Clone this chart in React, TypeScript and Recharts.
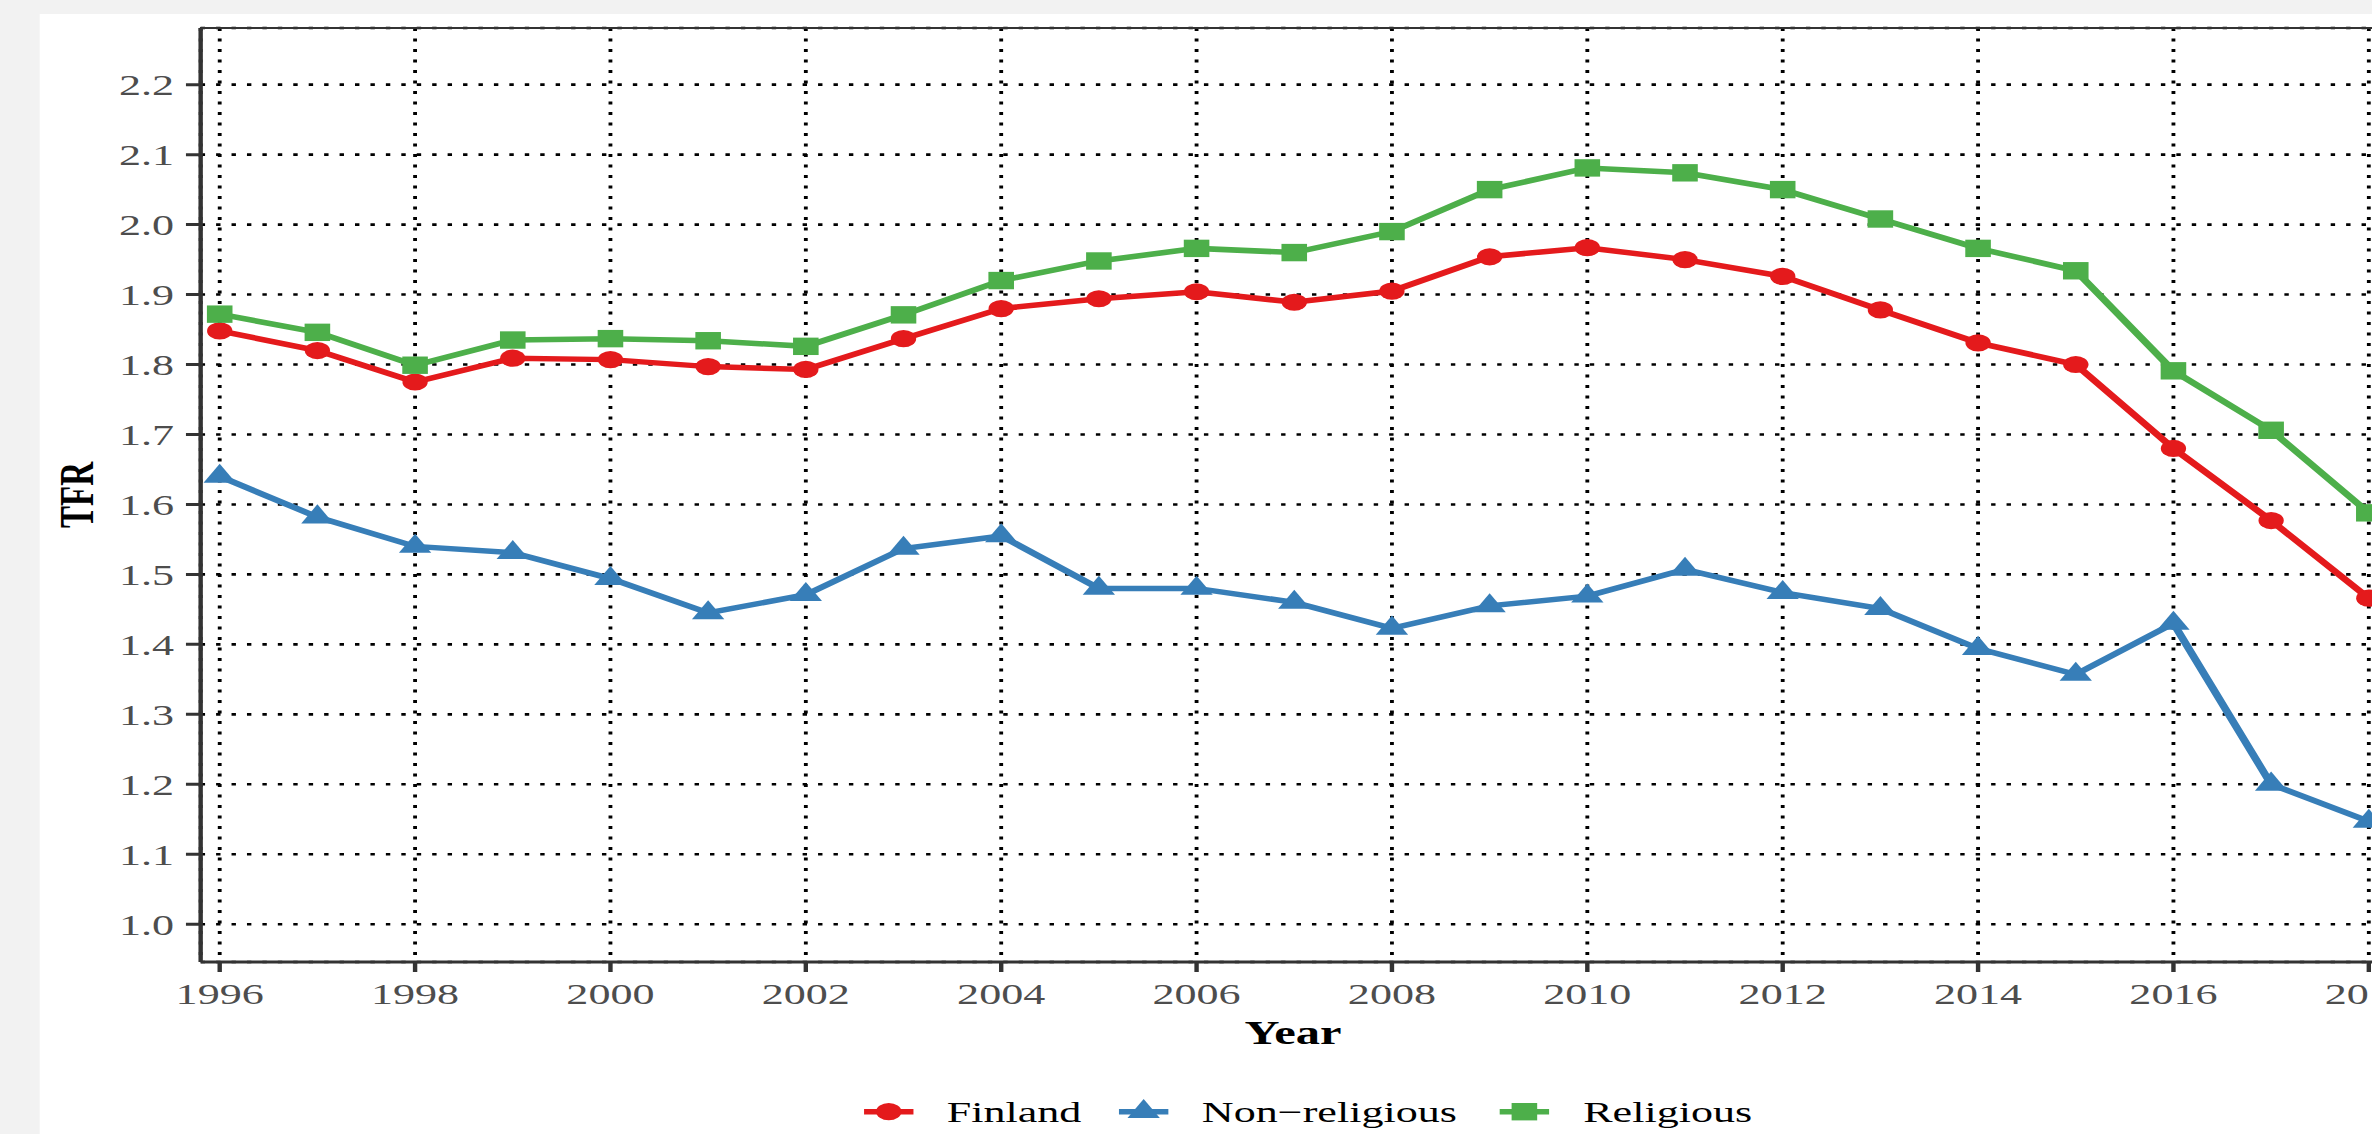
import { LineChart, Line, XAxis, YAxis, CartesianGrid } from 'recharts';

// values
const years = [1996, 1997, 1998, 1999, 2000, 2001, 2002, 2003, 2004, 2005, 2006, 2007, 2008, 2009, 2010, 2011, 2012, 2013, 2014, 2015, 2016, 2017, 2018];
const finland = [1.848, 1.82, 1.775, 1.809, 1.807, 1.797, 1.793, 1.837, 1.88, 1.894, 1.904, 1.889, 1.905, 1.954, 1.967, 1.95, 1.926, 1.878, 1.831, 1.8, 1.68, 1.577, 1.466];
const nonReligious = [1.64, 1.582, 1.54, 1.531, 1.494, 1.445, 1.471, 1.537, 1.555, 1.48, 1.48, 1.46, 1.423, 1.455, 1.469, 1.507, 1.474, 1.451, 1.394, 1.357, 1.43, 1.2, 1.147];
const religious = [1.872, 1.846, 1.799, 1.835, 1.837, 1.834, 1.826, 1.871, 1.92, 1.948, 1.966, 1.96, 1.99, 2.05, 2.081, 2.074, 2.05, 2.008, 1.966, 1.934, 1.791, 1.706, 1.588];

const xTicks = [1996, 1998, 2000, 2002, 2004, 2006, 2008, 2010, 2012, 2014, 2016, 2018];
const yTicks = [1.0, 1.1, 1.2, 1.3, 1.4, 1.5, 1.6, 1.7, 1.8, 1.9, 2.0, 2.1, 2.2];

const RED = '#E41A1C';
const BLUE = '#377EB8';
const GREEN = '#4DAF4A';
const AXIS = '#333333';
const SERIF = '"Liberation Serif", "Times New Roman", serif';

// the reference is horizontally stretched, so draw narrow and scale
const STRETCH = 1.47;

const data = years.map((year, i) => ({
  year,
  finland: finland[i],
  nonReligious: nonReligious[i],
  religious: religious[i],
}));

const Dot = ({ cx, cy, shape, color }: any) => {
  if (cx == null || cy == null) return null;
  if (shape === 'circle') return <circle cx={cx} cy={cy} r={8.6} fill={color} />;
  if (shape === 'square') return <rect x={cx - 8.7} y={cy - 8.7} width={17.4} height={17.4} fill={color} />;
  return (
    <polygon
      points={`${cx},${cy - 12.7} ${cx + 11},${cy + 6.35} ${cx - 11},${cy + 6.35}`}
      fill={color}
    />
  );
};

const legendItems = [
  { label: 'Finland', color: RED, shape: 'circle', keyX: 604.6, textX: 644 },
  { label: 'Non\u2212religious', color: BLUE, shape: 'triangle', keyX: 778, textX: 817.6 },
  { label: 'Religious', color: GREEN, shape: 'square', keyX: 1037, textX: 1077 },
];

const tickStyle = { fontSize: 30, fill: '#4d4d4d', fontFamily: SERIF };

export default function App() {
  return (
    <div style={{ position: 'fixed', left: 0, top: 0, width: 2372, height: 1134, overflow: 'hidden', background: '#f2f2f2' }}>
      <div
        style={{
          position: 'absolute',
          left: 0,
          top: 0,
          width: 2372 / STRETCH,
          height: 1134,
          transform: `scaleX(${STRETCH})`,
          transformOrigin: '0 0',
        }}
      >
        <div style={{ position: 'absolute', left: 26.5, top: 14, width: 1800, height: 1120, background: '#fff' }}>
          <LineChart width={1700} height={1120} data={data} margin={{ top: 14, right: 102.6, bottom: 112, left: 0 }}>
            <CartesianGrid stroke="#000" strokeWidth={2.6} strokeDasharray="3 7.5" ticks={undefined} />
            <XAxis
              dataKey="year"
              type="number"
              domain={[1995.805, 2018.195]}
              ticks={xTicks}
              interval={0}
              height={60}
              tick={tickStyle}
              tickSize={10}
              tickMargin={11}
              axisLine={{ stroke: AXIS, strokeWidth: 3 }}
              tickLine={{ stroke: AXIS, strokeWidth: 3 }}
              allowDataOverflow
            />
            <YAxis
              type="number"
              domain={[0.946, 2.281]}
              ticks={yTicks}
              interval={0}
              width={109.5}
              tick={tickStyle}
              tickSize={10}
              tickMargin={8}
              tickFormatter={(v: number) => v.toFixed(1)}
              axisLine={{ stroke: AXIS, strokeWidth: 3 }}
              tickLine={{ stroke: AXIS, strokeWidth: 3 }}
              allowDataOverflow
            />
            <Line
              type="linear"
              dataKey="finland"
              stroke={RED}
              strokeWidth={5.5}
              isAnimationActive={false}
              activeDot={false}
              dot={(p: any) => <Dot key={`f${p.index}`} cx={p.cx} cy={p.cy} shape="circle" color={RED} />}
            />
            <Line
              type="linear"
              dataKey="nonReligious"
              stroke={BLUE}
              strokeWidth={5.5}
              isAnimationActive={false}
              activeDot={false}
              dot={(p: any) => <Dot key={`n${p.index}`} cx={p.cx} cy={p.cy} shape="triangle" color={BLUE} />}
            />
            <Line
              type="linear"
              dataKey="religious"
              stroke={GREEN}
              strokeWidth={5.5}
              isAnimationActive={false}
              activeDot={false}
              dot={(p: any) => <Dot key={`r${p.index}`} cx={p.cx} cy={p.cy} shape="square" color={GREEN} />}
            />
          </LineChart>
        </div>

        {/* panel top border, axis titles and legend */}
        <svg
          width={2372 / STRETCH}
          height={1134}
          style={{ position: 'absolute', left: 0, top: 0, pointerEvents: 'none' }}
        >
          <line x1={136} x2={1700} y1={28} y2={28} stroke={AXIS} strokeWidth={2.2} />
          <text
            x={63.5}
            y={495}
            transform="rotate(-90 63.5 495)"
            textAnchor="middle"
            fontFamily={SERIF}
            fontWeight="bold"
            fontSize={33}
            fill="#000"
          >
            TFR
          </text>
          <text x={879.6} y={1044} textAnchor="middle" fontFamily={SERIF} fontWeight="bold" fontSize={33} fill="#000">
            Year
          </text>
          {legendItems.map((it) => (
            <g key={it.label}>
              <line x1={it.keyX - 16.8} x2={it.keyX + 16.8} y1={1111.7} y2={1111.7} stroke={it.color} strokeWidth={5.5} />
              <Dot cx={it.keyX} cy={1111.7} shape={it.shape} color={it.color} />
              <text x={it.textX} y={1121.7} fontFamily={SERIF} fontSize={30} fill="#000">
                {it.label}
              </text>
            </g>
          ))}
        </svg>
      </div>
    </div>
  );
}
